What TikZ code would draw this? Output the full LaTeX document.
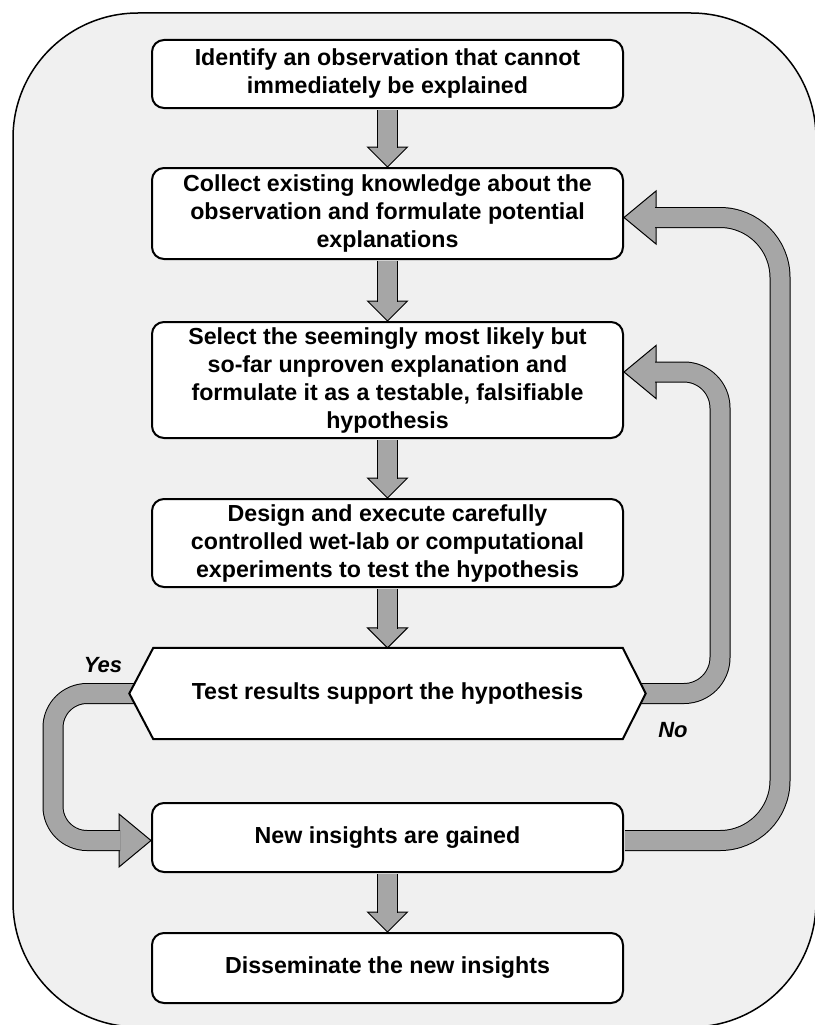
\documentclass[tikz,border=0pt]{standalone}
\usepackage{fontspec}
\setmainfont{Liberation Sans}
\pgfdeclarelayer{frame}
\pgfdeclarelayer{flow}
\pgfsetlayers{frame,flow,main}
\definecolor{framegray}{HTML}{F0F0F0}
\definecolor{arrowgray}{HTML}{A6A6A6}

\begin{document}
\begin{tikzpicture}[x=1pt, y=-1pt,
  steptext/.style = {font=\fontsize{23.2}{28}\selectfont\bfseries},
  stepbox/.style = {steptext, draw, line width=2pt, fill=white, rounded corners=12pt, minimum width=471pt, inner sep=0pt, align=center},
  shaft/.style = {double=arrowgray, double distance=19pt, line width=1pt},
  headline/.style = {draw, fill=arrowgray, line width=1pt, line join=miter},
  fathead/.pic = {\path[headline] (0,0) -- (-20,-20) -- (20,-20) -- cycle;},
  loophead/.pic = {\path[headline] (0,0) -- (32,-26.5) -- (32,26.5) -- cycle;},
  answer/.style = {font=\fontsize{22}{26}\selectfont\bfseries\itshape}]
	\useasboundingbox (0,0) rectangle (814,1025);
	
	\node[stepbox, minimum height=68pt] (1) at (387.5,74) {Identify an observation that cannot\\immediately be explained};
	\node[stepbox, minimum height=91pt] (2) at (387.5,213.5) {Collect existing knowledge about the\\observation and formulate potential\\explanations};
	\node[stepbox, minimum height=116pt] (3) at (387.5,380) {Select the seemingly most likely but\\so-far unproven explanation and\\formulate it as a testable, falsifiable\\hypothesis};
	\node[stepbox, minimum height=88pt] (4) at (387.5,543) {Design and execute carefully\\controlled wet-lab or computational\\experiments to test the hypothesis};
	\node[steptext, minimum width=516pt, minimum height=91pt, inner sep=0pt] (5) at (387.5,693.5) {Test results support the hypothesis};
	\node[stepbox, minimum height=69pt] (6) at (387.5,837.5) {New insights are gained};
	\node[stepbox, minimum height=70pt] (7) at (387.5,968) {Disseminate the new insights};
	
	\node[answer] (yes) at (103,665) {Yes};
	\node[answer] (no) at (673,730) {No};
	
	\begin{pgfonlayer}{frame}
		\draw[line width=1.5pt, fill=framegray, rounded corners=125pt] (13,13) rectangle (816,1027);
	\end{pgfonlayer}
	
	\begin{pgfonlayer}{flow}
		% heads first, the shafts cover their back edges
		\pic at (2.north) {fathead};
		\pic at (3.north) {fathead};
		\pic at (4.north) {fathead};
		\pic at (5.north) {fathead};
		\pic at (7.north) {fathead};
		\pic at ([yshift=-4pt]2.east) {loophead};
		\pic at ([yshift=8pt]3.east) {loophead};
		\pic[rotate=180] at ([yshift=-3pt]6.west) {loophead};
		
		\draw[shaft] ([yshift=-1pt]1.south) -- ([yshift=19pt]2.north);
		\draw[shaft] ([yshift=-1pt]2.south) -- ([yshift=19pt]3.north);
		\draw[shaft] ([yshift=-1pt]3.south) -- ([yshift=19pt]4.north);
		\draw[shaft] ([yshift=-1pt]4.south) -- ([yshift=19pt]5.north);
		\draw[shaft] ([yshift=-1pt]6.south) -- ([yshift=19pt]7.north);
		
		% feedback loops
		\draw[shaft, rounded corners=60pt] ([xshift=1pt, yshift=-3pt]6.east) -| ([xshift=156pt, yshift=-4pt]2.east) -- ([xshift=31pt, yshift=-4pt]2.east);
		\draw[shaft, rounded corners=36pt] ([xshift=-8pt]5.east) -| ([xshift=96pt, yshift=8pt]3.east) -- ([xshift=31pt, yshift=8pt]3.east);
		\draw[shaft, rounded corners=34pt] ([xshift=8pt]5.west) -| ([xshift=-98pt, yshift=-3pt]6.west) -- ([xshift=-31pt, yshift=-3pt]6.west);
		
		% decision hexagon
		\draw[line width=2pt, fill=white] (5.west) -- ([xshift=24pt]5.north west) -- ([xshift=-23pt]5.north east) -- (5.east) -- ([xshift=-23pt]5.south east) -- ([xshift=24pt]5.south west) -- cycle;
	\end{pgfonlayer}
	
\end{tikzpicture}
\end{document}
